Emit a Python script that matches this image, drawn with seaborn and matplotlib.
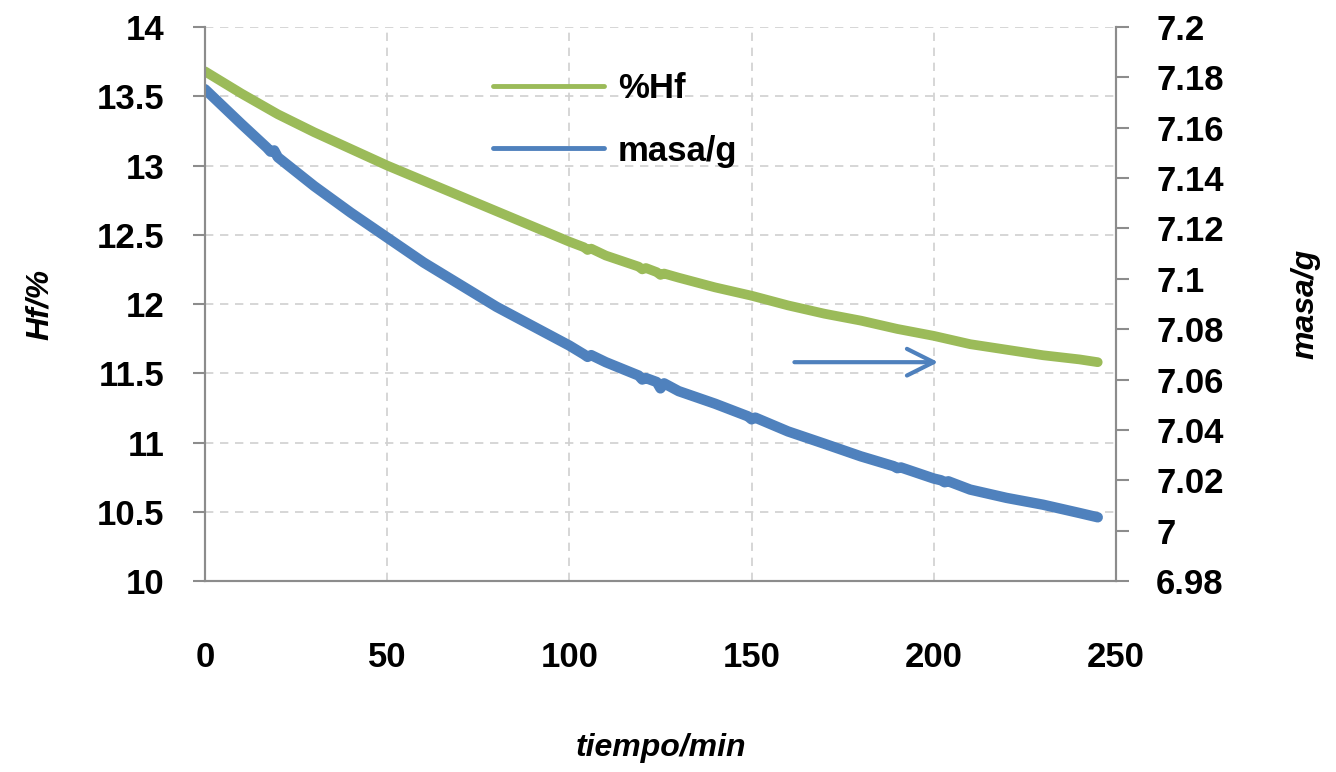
import numpy as np
import pandas as pd
import matplotlib
matplotlib.use("Agg")
import matplotlib.pyplot as plt
import seaborn as sns

# Datos
tiempo_hf = [0, 10, 20, 30, 40, 50, 60, 70, 80, 90, 100, 104, 105, 106, 110, 119, 120, 121,
             124, 125, 126, 130, 140, 150, 160, 170, 180, 190, 200, 210, 220, 230, 240, 245]
hf = [13.68, 13.52, 13.37, 13.24, 13.12, 13.00, 12.89, 12.78, 12.67, 12.56, 12.45, 12.41, 12.39, 12.40,
      12.35, 12.27, 12.25, 12.26, 12.23, 12.21, 12.22, 12.19, 12.12, 12.06, 11.99, 11.93, 11.88,
      11.82, 11.77, 11.71, 11.67, 11.63, 11.60, 11.58]

tiempo_masa = [0, 10, 17, 18, 19, 20, 30, 40, 50, 60, 70, 80, 90, 100, 104, 105, 106, 110, 119, 120,
               121, 124, 125, 126, 130, 140, 149, 150, 151, 160, 170, 180, 189, 190, 191, 200, 202, 203,
               204, 210, 220, 230, 240, 245]
masa = [7.1753, 7.1615, 7.1521, 7.1505, 7.1510, 7.1483, 7.1368, 7.1263, 7.1164, 7.1065, 7.0977,
        7.0889, 7.0812, 7.0735, 7.0700, 7.0690, 7.0697, 7.0669, 7.0616, 7.0600, 7.0606, 7.0590,
        7.0565, 7.0585, 7.0554, 7.0504, 7.0454, 7.0442, 7.0449, 7.0394, 7.0345, 7.0295, 7.0256,
        7.0248, 7.0251, 7.0207, 7.0200, 7.0192, 7.0196, 7.0163, 7.0130, 7.0103, 7.0070, 7.0053]

df_hf = pd.DataFrame({"tiempo": tiempo_hf, "hf": hf})
df_masa = pd.DataFrame({"tiempo": tiempo_masa, "masa": masa})

verde = "#9bbb59"
azul = "#4f81bd"
gris = "#8c8c8c"

sns.set_theme(style="white")
plt.rcParams["font.family"] = ["Liberation Sans", "DejaVu Sans"]

fig = plt.figure(figsize=(13.36, 7.72), dpi=100)
ax = fig.add_axes([0.1534, 0.2474, 0.6819, 0.7176])
ax2 = ax.twinx()

sns.lineplot(data=df_hf, x="tiempo", y="hf", ax=ax, color=verde, linewidth=7, legend=False)
sns.lineplot(data=df_masa, x="tiempo", y="masa", ax=ax2, color=azul, linewidth=7.5, legend=False)

ax.set_xlim(0, 250)
ax.set_ylim(10, 14)
ax2.set_ylim(6.98, 7.2)
ax.set_xticks(np.arange(0, 251, 50))
ax.set_yticks(np.arange(10, 14.01, 0.5))
ax2.set_yticks(np.arange(6.98, 7.2001, 0.02))
ax.set_yticklabels(["10", "10.5", "11", "11.5", "12", "12.5", "13", "13.5", "14"])
ax2.set_yticklabels(["6.98", "7", "7.02", "7.04", "7.06", "7.08", "7.1", "7.12", "7.14",
                     "7.16", "7.18", "7.2"])

ax.grid(True, color="#d0d0d0", linestyle=(0, (5, 4)), linewidth=1.2)
ax.set_axisbelow(True)

for a in (ax, ax2):
    a.spines["top"].set_visible(False)
    for s in ("left", "right", "bottom"):
        a.spines[s].set_color(gris)
        a.spines[s].set_linewidth(1.5)

ax.tick_params(axis="x", direction="inout", length=14, width=1.5, color=gris, pad=36)
ax.tick_params(axis="y", direction="out", length=9, width=1.5, color=gris, pad=20)
ax2.tick_params(axis="y", direction="out", length=9, width=1.5, color=gris, pad=20)
for lbl in ax.get_xticklabels() + ax.get_yticklabels() + ax2.get_yticklabels():
    lbl.set_fontsize(25)
    lbl.set_fontweight("bold")
    lbl.set_color("black")

ax.set_xlabel("tiempo/min", fontsize=23, fontweight="bold", style="italic", labelpad=43,
              color="black")
ax.set_ylabel("Hf/%", fontsize=23, fontweight="bold", style="italic", labelpad=30, color="black")
ax2.set_ylabel("masa/g", fontsize=23, fontweight="bold", style="italic", labelpad=48,
               color="black")

# flecha que indica el eje de la derecha
ax.annotate("", xy=(202, 11.58), xytext=(161, 11.58),
            arrowprops=dict(arrowstyle="->,head_length=1.6,head_width=0.8", color=azul, lw=3))

handles = [ax.get_lines()[0], ax2.get_lines()[0]]
leg = ax.legend(handles, ["%Hf", "masa/g"], loc="upper left", bbox_to_anchor=(0.297, 0.95),
                frameon=False, handlelength=3.2, handletextpad=0.4, labelspacing=0.85,
                borderpad=0, prop=dict(size=25, weight="bold"))
for ln in leg.get_lines():
    ln.set_linewidth(3.5)
for t in leg.get_texts():
    t.set_color("black")

fig.savefig("out.png", dpi=100)
